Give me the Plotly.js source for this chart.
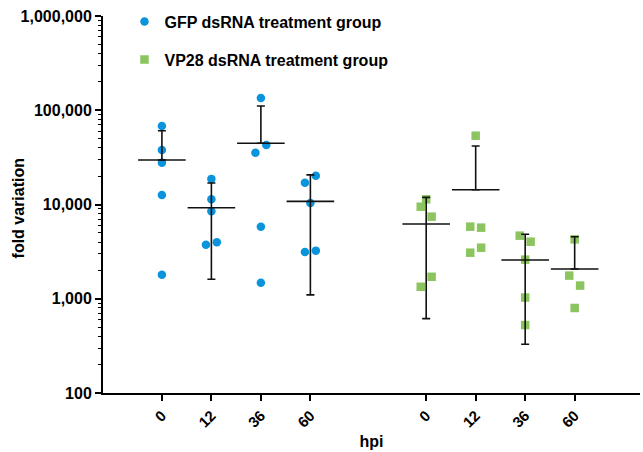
<!DOCTYPE html>
<html>
<head>
<meta charset="utf-8">
<script src="https://cdn.plot.ly/plotly-3.0.1.min.js"></script>
<style>html,body{margin:0;padding:0;background:#fff}#chart{width:643px;height:452px}</style>
</head>
<body>
<div id="chart"></div>
<script>
// ---- data ----
var timepoints = ["0", "12", "36", "60"];
var seriesNames = ["GFP dsRNA treatment group", "VP28 dsRNA treatment group"];
var yTitle = "fold variation";
var xTitle = "hpi";

var gfpValues = [
  [68000, 37900, 27800, 12600, 1800],
  [18700, 11400, 8500, 3740, 3970],
  [134900, 35400, 42800, 5820, 1480],
  [17000, 20200, 10400, 3130, 3240]
];
var gfpMean = [29700, 9250, 44600, 10800];
var gfpErrUpper = [60700, 16900, 111000, 20600];
var gfpErrLower = [null, 1610, null, 1100];

var vp28Values = [
  [11350, 9480, 7430, 1710, 1340],
  [53700, 5820, 5680, 3080, 3480],
  [4670, 4030, 2600, 1030, 526],
  [4270, 1760, 1380, 798]
];
var vp28Mean = [6210, 14350, 2580, 2070];
var vp28ErrUpper = [11900, 41750, 4830, 4550];
var vp28ErrLower = [615, null, 329, null];

// ---- layout helpers (positions, not data) ----
var groupOffset = [0, 5.34];
var jitter = [
  [[0,0,0,0,0],[0,0,0,-0.11,0.11],[0,-0.11,0.11,0,0],[-0.11,0.11,0,-0.11,0.11]],
  [[0,-0.11,0.11,0.11,-0.11],[0,-0.11,0.11,-0.11,0.11],[-0.11,0.11,0,0,0],[0,-0.11,0.11,0]]
];
var colors = ["#0a94dc", "#8cc55f"];
var symbols = ["circle", "square"];

var traces = [];
var allVals = [gfpValues, vp28Values];
var means = [gfpMean, vp28Mean];
var ups = [gfpErrUpper, vp28ErrUpper];
var lows = [gfpErrLower, vp28ErrLower];

for (var s = 0; s < 2; s++) {
  var xs = [], ys = [];
  for (var g = 0; g < timepoints.length; g++) {
    var vals = allVals[s][g];
    for (var i = 0; i < vals.length; i++) {
      xs.push(groupOffset[s] + g + jitter[s][g][i]);
      ys.push(vals[i]);
    }
  }
  traces.push({
    type: "scatter", mode: "markers", x: xs, y: ys,
    name: seriesNames[s], legendgroup: "g" + s,
    marker: {symbol: symbols[s], size: 8.5, color: colors[s], line: {width: 0}},
    cliponaxis: false
  });
}

// mean lines + error bars
for (var s = 0; s < 2; s++) {
  var mx = [], my = [], eu = [], el = [];
  for (var g = 0; g < timepoints.length; g++) {
    mx.push(groupOffset[s] + g);
    my.push(means[s][g]);
    eu.push(ups[s][g] - means[s][g]);
    el.push(lows[s][g] === null ? 0 : means[s][g] - lows[s][g]);
  }
  traces.push({
    type: "scatter", mode: "markers", x: mx, y: my, showlegend: false,
    marker: {symbol: "line-ew", size: 34, color: "#111", line: {width: 1.6, color: "#111"}},
    error_y: {type: "data", symmetric: false, array: eu, arrayminus: el,
              color: "#111", thickness: 1.6, width: 4}
  });
}

var tickvals = [], ticktext = [];
for (var s = 0; s < 2; s++) for (var g = 0; g < timepoints.length; g++) {
  tickvals.push(groupOffset[s] + g); ticktext.push(timepoints[g]);
}

var boldFont = {family: "Arial, 'Liberation Sans', sans-serif", weight: "bold", color: "#000"};

var layout = {
  width: 643, height: 452,
  margin: {l: 103, r: 3, t: 16, b: 59},
  paper_bgcolor: "#fff", plot_bgcolor: "#fff",
  showlegend: true,
  legend: {x: 0.04, y: 1.03, xanchor: "left", yanchor: "top", bgcolor: "rgba(0,0,0,0)",
           font: Object.assign({size: 16}, boldFont), tracegroupgap: 14, traceorder: "grouped",
           itemwidth: 30},
  xaxis: {
    range: [-1.19, 9.66], tickvals: tickvals, ticktext: ticktext, tickangle: -45,
    showgrid: false, zeroline: false, showline: true, linecolor: "#000", linewidth: 2,
    ticks: "outside", ticklen: 6, tickwidth: 2, tickcolor: "#000",
    tickfont: Object.assign({size: 15}, boldFont),
    title: {text: xTitle, font: Object.assign({size: 16}, boldFont), standoff: 6}
  },
  yaxis: {
    type: "log", range: [2, 6], tickvals: [100, 1000, 10000, 100000, 1000000],
    ticktext: ["100", "1,000", "10,000", "100,000", "1,000,000"],
    showgrid: false, zeroline: false, showline: true, linecolor: "#000", linewidth: 2,
    ticks: "outside", ticklen: 6, tickwidth: 2, tickcolor: "#000",
    tickfont: Object.assign({size: 16}, boldFont),
    minor: {ticks: "outside", ticklen: 3, tickwidth: 1, tickcolor: "#000", dtick: "D1", showgrid: false}
  },
  annotations: [{
    text: yTitle, xref: "paper", yref: "paper", x: -0.158, y: 0.49,
    xanchor: "center", yanchor: "middle", textangle: -90, showarrow: false,
    font: Object.assign({size: 16}, boldFont)
  }]
};

Plotly.newPlot("chart", traces, layout, {displayModeBar: false, staticPlot: true});
</script>
</body>
</html>
